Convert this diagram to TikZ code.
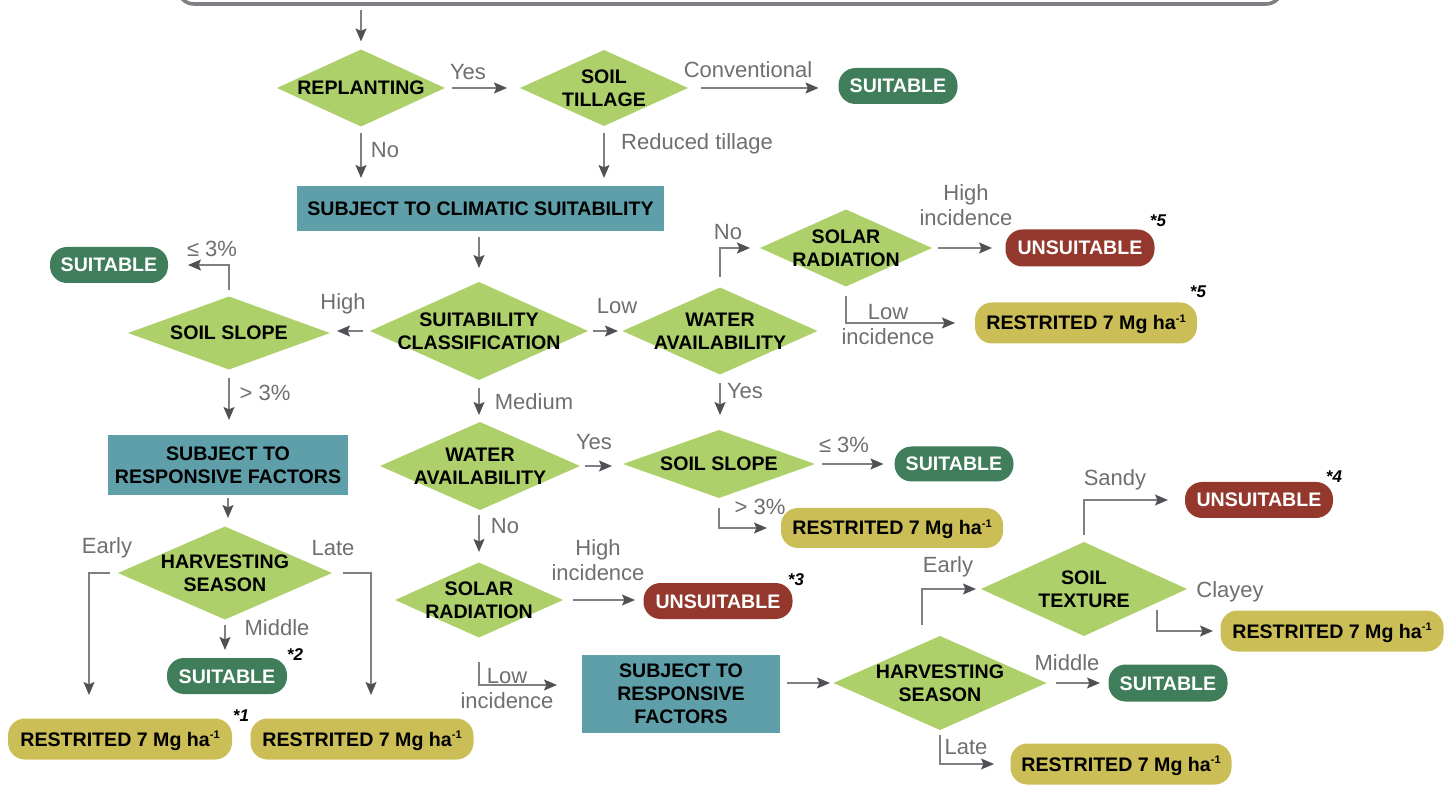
\documentclass[tikz,border=0pt]{standalone}
\usepackage{fontspec}
\setmainfont{Liberation Sans}
\usetikzlibrary{shapes.geometric, arrows.meta, calc}
\definecolor{leaf}{RGB}{174,208,106}
\definecolor{tealbox}{RGB}{94,159,170}
\definecolor{okgreen}{RGB}{63,125,91}
\definecolor{badred}{RGB}{148,56,45}
\definecolor{mustard}{RGB}{203,190,86}
\definecolor{linegray}{RGB}{128,128,132}
\definecolor{tipgray}{RGB}{80,80,85}
\definecolor{lblgray}{RGB}{110,110,115}
% text of a diamond: no size of its own, so the diamond keeps its minimum size
\newcommand{\dtxt}[1]{\makebox[0pt]{\raisebox{-3.6pt}[0pt][0pt]{\begin{tabular}{@{}c@{}}#1\end{tabular}}}}
\newcommand{\restxt}{RESTRITED 7 Mg ha\raisebox{3.8pt}{\fontsize{5.5}{6}\selectfont -1}}
\tikzset{
  dia/.style={diamond, fill=leaf, inner sep=0pt, outer sep=0pt, font=\fontsize{9.8}{11.5}\selectfont\bfseries},
  factbox/.style={rectangle, fill=tealbox, inner sep=0pt, outer sep=0pt, align=center, font=\fontsize{9.8}{11.5}\selectfont\bfseries},
  pill/.style={rectangle, rounded corners=8.5pt, inner sep=0pt, outer sep=0pt, text height=7pt, text depth=0pt, font=\fontsize{9.8}{11.5}\selectfont\bfseries},
  suitable/.style={pill, fill=okgreen, text=white, minimum width=59.5pt, minimum height=18pt},
  unsuitable/.style={pill, fill=badred, text=white, minimum width=74.5pt, minimum height=18.5pt},
  restricted/.style={pill, fill=mustard, minimum width=111pt, minimum height=20.5pt},
  lbl/.style={inner sep=0pt, align=center, text=lblgray, font=\fontsize{11}{12.5}\selectfont},
  fnote/.style={inner sep=0pt, font=\fontsize{8.5}{10}\selectfont\bfseries\itshape},
  arr/.style={draw=linegray, line width=0.7pt, -{Stealth[length=6.5pt, width=5.5pt, inset=1.2pt, color=tipgray]}},
}
\begin{document}
\begin{tikzpicture}[x=0.5pt, y=-0.5pt]
  \useasboundingbox (0,0) rectangle (1445,785);
  % box above, cut off by the page
  \node[draw=linegray, line width=1.8pt, rounded corners=8pt, minimum width=552pt, minimum height=24pt] (crit) at (730,-20) {};

  % replanting and tillage
  \node[dia, minimum width=84pt, minimum height=38.5pt] (replant) at (361,88) {\dtxt{REPLANTING}};
  \node[dia, minimum width=84pt, minimum height=38pt] (tillage) at (604,88) {\dtxt{SOIL\\TILLAGE}};
  \node[suitable] (suitTill) at (898,86) {SUITABLE};
  \node[factbox, minimum width=183.5pt, minimum height=22.5pt] (climatic) at (480.5,209) {SUBJECT TO CLIMATIC SUITABILITY};

  % classification and high branch
  \node[dia, minimum width=109pt, minimum height=49pt] (classif) at (479,331) {\dtxt{SUITABILITY\\CLASSIFICATION}};
  \node[dia, minimum width=101pt, minimum height=36.5pt] (slopeHigh) at (229,333) {\dtxt{SOIL SLOPE}};
  \node[suitable, minimum width=59pt] (suitHigh) at (109,265) {SUITABLE};
  \node[factbox, minimum width=120pt, minimum height=30pt] (respHigh) at (228,465) {SUBJECT TO\\RESPONSIVE FACTORS};
  \node[dia, minimum width=107pt, minimum height=46.5pt] (harvHigh) at (225,573) {\dtxt{HARVESTING\\SEASON}};
  \node[suitable, minimum width=60pt] (suitHarv) at (227,676) {SUITABLE};
  \node[restricted, minimum width=112pt] (restEarly) at (120,739) {\restxt};
  \node[restricted, minimum width=111.5pt] (restLate) at (362,739) {\restxt};

  % low branch
  \node[dia, minimum width=97.5pt, minimum height=43.5pt] (waterLow) at (720,331) {\dtxt{WATER\\AVAILABILITY}};
  \node[dia, minimum width=86pt, minimum height=38.5pt] (solarLow) at (846,248) {\dtxt{SOLAR\\RADIATION}};
  \node[unsuitable] (unsSolar) at (1080,248) {UNSUITABLE};
  \node[restricted] (restSolar) at (1086,323) {\restxt};
  \node[dia, minimum width=96pt, minimum height=34pt] (slopeMid) at (719,464) {\dtxt{SOIL SLOPE}};
  \node[suitable, minimum height=17.5pt] (suitSlope) at (954,464) {SUITABLE};
  \node[restricted, minimum height=20pt] (restSlope) at (892,528) {\restxt};

  % medium branch
  \node[dia, minimum width=100pt, minimum height=44pt] (waterMed) at (480,466) {\dtxt{WATER\\AVAILABILITY}};
  \node[dia, minimum width=84pt, minimum height=37.5pt] (solarMed) at (479,600) {\dtxt{SOLAR\\RADIATION}};
  \node[unsuitable, minimum height=18pt] (unsMed) at (718,601) {UNSUITABLE};
  \node[factbox, minimum width=99pt, minimum height=39pt] (respMed) at (681,694) {SUBJECT TO\\RESPONSIVE\\FACTORS};
  \node[dia, minimum width=106.5pt, minimum height=47pt] (harvMed) at (940,683) {\dtxt{HARVESTING\\SEASON}};
  \node[dia, minimum width=103pt, minimum height=47pt] (texture) at (1084,589) {\dtxt{SOIL\\TEXTURE}};
  \node[unsuitable, minimum width=74pt, minimum height=18pt] (unsSandy) at (1259,500) {UNSUITABLE};
  \node[restricted, minimum width=111.5pt] (restClay) at (1332,631) {\restxt};
  \node[suitable, minimum height=18.5pt] (suitMid) at (1168,683) {SUITABLE};
  \node[restricted, minimum width=110.5pt] (restLateR) at (1121,764) {\restxt};

  % notes
  \node[fnote] (n5a) at (1158,221) {*5};
  \node[fnote] (n5b) at (1198,292) {*5};
  \node[fnote] (n4) at (1334,477) {*4};
  \node[fnote] (n3) at (796,580) {*3};
  \node[fnote] (n2) at (295,655) {*2};
  \node[fnote] (n1) at (241,716) {*1};

  % connectors
  \draw[arr, shorten <=2pt, shorten >=4pt] (crit.south -| replant.north) -- (replant.north);
  \draw[arr, shorten <=3.5pt, shorten >=6.5pt] (replant.east) -- (tillage.west);
  \draw[arr, shorten <=6.5pt, shorten >=10pt] (tillage.east) -- (tillage.east -| suitTill.west);
  \draw[arr, shorten <=3.25pt, shorten >=4.25pt] (replant.south) -- (replant.south |- climatic.north);
  \draw[arr, shorten <=3.5pt, shorten >=4.25pt] (tillage.south) -- (tillage.south |- climatic.north);
  \draw[arr, shorten <=3pt, shorten >=7pt] (climatic.south -| classif.north) -- (classif.north);
  \draw[arr, shorten <=3.5pt, shorten >=3.5pt] (classif.west) -- (classif.west -| slopeHigh.east);
  \draw[arr, shorten <=3.25pt, shorten >=10pt] (slopeHigh.north) |- (suitHigh.east);
  \draw[arr, shorten <=4.25pt, shorten >=7.5pt] (slopeHigh.south) -- (slopeHigh.south |- respHigh.north);
  \draw[arr, shorten <=1.5pt, shorten >=4.25pt] (respHigh.south) -- (respHigh.south |- harvHigh.north);
  \draw[arr, shorten <=4pt, shorten >=11.75pt] (harvHigh.west) -| ($(restEarly.north)+(-31,0)$);
  \draw[arr, shorten <=5.5pt, shorten >=11.75pt] (harvHigh.east) -| ($(restLate.north)+(9,0)$);
  \draw[arr, shorten <=2.75pt, shorten >=4pt] (harvHigh.south) -- (harvHigh.south |- suitHarv.north);
  \draw[arr, shorten <=2.5pt, shorten >=2.25pt] (classif.east) -- (waterLow.west);
  \draw[arr, shorten <=4pt, shorten >=3.5pt] (classif.south) -- (classif.south |- waterMed.north);
  \draw[arr, shorten <=5.25pt, shorten >=5pt] (waterLow.north) |- (solarLow.west);
  \draw[arr, shorten <=3pt, shorten >=6.75pt] (solarLow.east) -- (unsSolar.west);
  \draw[arr, shorten <=4.75pt, shorten >=10pt] (solarLow.south) |- (restSolar.west);
  \draw[arr, shorten <=4.25pt, shorten >=7.5pt] (waterLow.south) -- (waterLow.south |- slopeMid.north);
  \draw[arr, shorten <=2.5pt, shorten >=5.5pt] (waterMed.east) -- (waterMed.east -| slopeMid.west);
  \draw[arr, shorten <=3.5pt, shorten >=5.5pt] (slopeMid.east) -- (suitSlope.west);
  \draw[arr, shorten <=5pt, shorten >=7pt] (slopeMid.south) |- (restSlope.west);
  \draw[arr, shorten <=2.5pt, shorten >=5.25pt] (waterMed.south -| solarMed.north) -- (solarMed.north);
  \draw[arr, shorten <=5pt, shorten >=4.25pt] (solarMed.east) -- (solarMed.east -| unsMed.west);
  \draw[arr, shorten <=12.25pt, shorten >=12.5pt] (solarMed.south) |- ($(respMed.west)+(0,-9)$);
  \draw[arr, shorten <=3.5pt, shorten >=1.75pt] (harvMed.west -| respMed.east) -- (harvMed.west);
  \draw[arr, shorten >=2.5pt] ($(harvMed.north)+(-18,-11)$) |- (texture.west);
  \draw[arr, shorten <=3.5pt, shorten >=8.5pt] (texture.north) |- (unsSandy.west);
  \draw[arr, shorten >=3.75pt] ($(texture.east)+(-30,21)$) |- (restClay.west);
  \draw[arr, shorten <=4.75pt, shorten >=4.25pt] (harvMed.east) -- (harvMed.east -| suitMid.west);
  \draw[arr, shorten <=2.5pt, shorten >=8.25pt] (harvMed.south) |- (restLateR.west);

  % branch labels
  \node[lbl] (lYesTill) at (468,72) {Yes};
  \node[lbl] (lConv) at (748,70) {Conventional};
  \node[lbl] (lNoRep) at (385,150) {No};
  \node[lbl] (lReduced) at (697,144) {Reduced tillage};
  \node[lbl] (lHigh) at (343,304) {High};
  \node[lbl] (lLeqA) at (212,249) {≤ 3\%};
  \node[lbl] (lGtA) at (265,393) {> 3\%};
  \node[lbl] (lEarlyA) at (107,548) {Early};
  \node[lbl] (lLateA) at (333,548) {Late};
  \node[lbl] (lMidA) at (277,628) {Middle};
  \node[lbl] (lLow) at (617,306) {Low};
  \node[lbl] (lMedium) at (534,402) {Medium};
  \node[lbl] (lNoWater) at (728,232) {No};
  \node[lbl] (lHighIncA) at (966,205.5) {High\\incidence};
  \node[lbl] (lLowIncA) at (888,324.5) {Low\\incidence};
  \node[lbl] (lYesWater) at (745,391) {Yes};
  \node[lbl] (lYesMed) at (594,442) {Yes};
  \node[lbl] (lLeqB) at (844,445) {≤ 3\%};
  \node[lbl] (lGtB) at (760,507) {> 3\%};
  \node[lbl] (lNoMed) at (505,526) {No};
  \node[lbl] (lHighIncB) at (598,560.5) {High\\incidence};
  \node[lbl] (lLowIncB) at (507,688.5) {Low\\incidence};
  \node[lbl] (lEarlyB) at (948,567) {Early};
  \node[lbl] (lSandy) at (1115,480) {Sandy};
  \node[lbl] (lClayey) at (1230,592) {Clayey};
  \node[lbl] (lMidB) at (1067,663) {Middle};
  \node[lbl] (lLateB) at (966,747) {Late};
\end{tikzpicture}
\end{document}
